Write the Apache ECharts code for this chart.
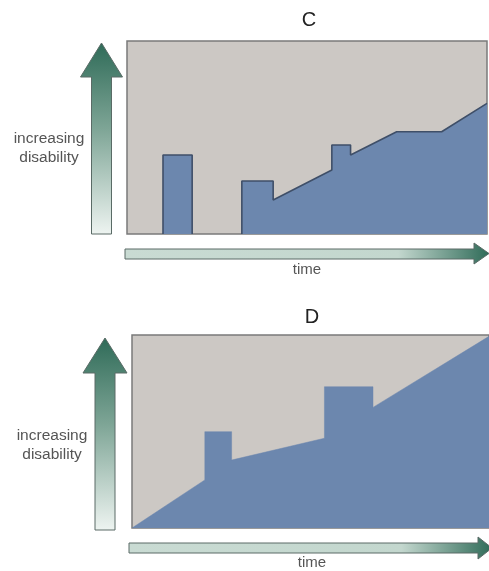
<!DOCTYPE html>
<html>
<head>
<meta charset="utf-8">
<script src="https://cdn.jsdelivr.net/npm/echarts@6/dist/echarts.min.js"></script>
<style>html,body{margin:0;padding:0;background:#fff}#chart{width:489px;height:571px}</style>
</head>
<body>
<div id="chart"></div>
<script>
// Panel titles and axis captions
var panelTitles = ['C', 'D'];
var yCaption = 'increasing\ndisability';
var xCaption = 'time';

// Panel C: isolated episode (time, disability level)
var cEpisodeTime = [10, 10, 18.1, 18.1];
var cEpisodeLevel = [0, 40.9, 40.9, 0];
// Panel C: progressive course
var cCourseTime = [31.9, 31.9, 40.6, 40.6, 56.9, 56.9, 62.1, 62.1, 74.9, 87.4, 100];
var cCourseLevel = [0, 27.5, 27.5, 17.6, 33.2, 46.1, 46.1, 40.9, 53, 53, 67.7];

// Panel D: progressive course with relapses
var dCourseTime = [0, 20.4, 20.4, 27.9, 27.9, 53.9, 53.9, 67.5, 67.5, 100];
var dCourseLevel = [0, 24.9, 49.9, 49.9, 35.2, 46.5, 73.2, 73.2, 62.5, 99.3];

function pairs(xs, ys) { return xs.map(function (x, i) { return [x, ys[i]]; }); }

var fillBlue = '#6c87ae';
var grids = [
  {left: 127, top: 41, width: 360, height: 193},
  {left: 132, top: 335, width: 357, height: 193}
];
var gridOpt = grids.map(function (g) {
  return Object.assign({show: true, backgroundColor: '#ccc8c4', borderColor: '#7a7a7a', borderWidth: 1.5}, g);
});
function axisX(i) { return {type: 'value', gridIndex: i, min: 0, max: 100, show: false}; }
function axisY(i) { return {type: 'value', gridIndex: i, min: 0, max: 100, show: false}; }

function areaSeries(grid, xs, ys, outline) {
  return {
    type: 'line', xAxisIndex: grid, yAxisIndex: grid, data: pairs(xs, ys),
    symbol: 'none', silent: true, animation: false,
    lineStyle: outline ? {color: '#3f4f68', width: 1.6} : {color: fillBlue, width: 0.5},
    areaStyle: {color: fillBlue, opacity: 1}
  };
}

var vGrad = function () {
  return {type: 'linear', x: 0, y: 0, x2: 0, y2: 1, colorStops: [
    {offset: 0, color: '#2f6b58'}, {offset: 0.45, color: '#7ea596'}, {offset: 1, color: '#eef4f1'}]};
};
var hGrad = function () {
  return {type: 'linear', x: 0, y: 0, x2: 1, y2: 0, colorStops: [
    {offset: 0, color: '#c9dbd3'}, {offset: 0.75, color: '#c3d7ce'}, {offset: 1, color: '#2f6b58'}]};
};

function vArrow(sx0, sx1, hx0, hx1, tip, base, bottom) {
  var mid = (hx0 + hx1) / 2;
  return {type: 'polygon', silent: true,
    shape: {points: [[sx0, bottom], [sx0, base], [hx0, base], [mid, tip], [hx1, base], [sx1, base], [sx1, bottom]]},
    style: {fill: vGrad(), stroke: '#5a6b66', lineWidth: 1}};
}
function hArrow(x0, y0, y1, hx, hy0, hy1, tip) {
  var mid = (hy0 + hy1) / 2;
  return {type: 'polygon', silent: true,
    shape: {points: [[x0, y0], [hx, y0], [hx, hy0], [tip, mid], [hx, hy1], [hx, y1], [x0, y1]]},
    style: {fill: hGrad(), stroke: '#5a6b66', lineWidth: 1}};
}
function caption(x, y, txt, size, color, lh) {
  return {type: 'text', silent: true, x: x, y: y,
    style: {text: txt, fill: color, font: size + 'px "Liberation Sans", Arial, sans-serif',
      align: 'center', verticalAlign: 'middle', lineHeight: lh || size + 4}};
}

var option = {
  backgroundColor: '#ffffff',
  animation: false,
  grid: gridOpt,
  xAxis: [axisX(0), axisX(1)],
  yAxis: [axisY(0), axisY(1)],
  series: [
    areaSeries(0, cEpisodeTime, cEpisodeLevel, true),
    areaSeries(0, cCourseTime, cCourseLevel, true),
    areaSeries(1, dCourseTime, dCourseLevel, false)
  ],
  graphic: [
    vArrow(91.5, 111.5, 80.5, 122.5, 43, 77, 234),
    hArrow(125, 249, 259, 474, 243, 264, 489),
    vArrow(95, 115, 83, 127, 338, 373, 530),
    hArrow(129, 543, 553, 478, 537, 559, 492),
    caption(49, 148, yCaption, 15.5, '#555', 19),
    caption(52, 445, yCaption, 15.5, '#555', 19),
    caption(307, 270, xCaption, 15, '#555'),
    caption(312, 563, xCaption, 15, '#555'),
    caption(309, 20, panelTitles[0], 20, '#222'),
    caption(312, 317, panelTitles[1], 20, '#222')
  ]
};
var chart = echarts.init(document.getElementById('chart'), null, {renderer: 'canvas'});
chart.setOption(option);
</script>
</body>
</html>
